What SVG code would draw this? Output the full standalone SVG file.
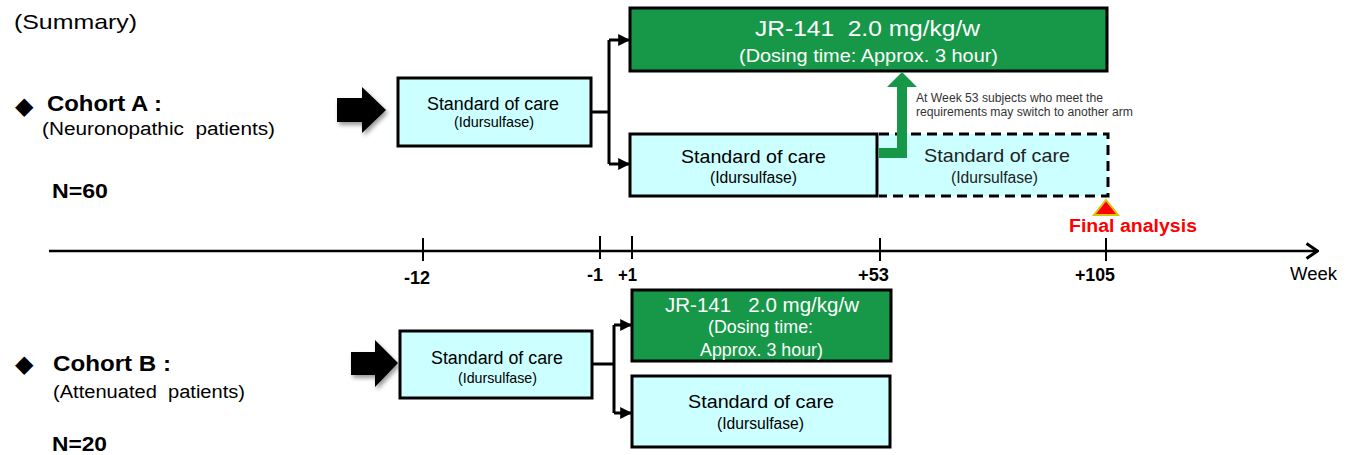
<svg xmlns="http://www.w3.org/2000/svg" width="1354" height="455" viewBox="0 0 1354 455">
<defs>
<style>
text{font-family:"Liberation Sans",Arial,sans-serif;}
.soc{fill:#CCFFFF;stroke:#000;stroke-width:3;}
.grn{fill:#169848;stroke:#000;stroke-width:3;}
.wt{fill:#fff;}
.bk{fill:#000;}
.conn{fill:none;stroke:#000;stroke-width:3;}
.tick{stroke:#000;stroke-width:2;}
.lbl{font-weight:bold;font-size:18px;fill:#000;}
.fat{fill:#000;}
.dia{font-family:"DejaVu Sans",sans-serif;font-size:24px;fill:#000;}
</style>
<marker id="ah" viewBox="0 0 10 10" refX="9" refY="5" markerWidth="4" markerHeight="4" orient="auto" markerUnits="strokeWidth">
<path d="M0,0 L10,5 L0,10 z" fill="#000"/>
</marker>
<marker id="open" viewBox="0 0 14 18" refX="13" refY="9" markerWidth="14" markerHeight="18" orient="auto" markerUnits="userSpaceOnUse">
<path d="M1.5,1.5 L12.5,9 L1.5,16.5" fill="none" stroke="#000" stroke-width="3"/>
</marker>
<filter id="sh" x="-20%" y="-20%" width="150%" height="150%">
<feDropShadow dx="2" dy="3" stdDeviation="2" flood-color="#000" flood-opacity="0.4"/>
</filter>
</defs>

<text x="14" y="29" font-size="21" fill="#000" textLength="123" lengthAdjust="spacingAndGlyphs">(Summary)</text>

<g id="cohortA-label">
<text class="dia" x="15" y="114">◆</text>
<text x="47" y="111" font-size="22" font-weight="bold" fill="#000" textLength="115" lengthAdjust="spacingAndGlyphs">Cohort A :</text>
<text x="42" y="135" font-size="18" fill="#000" xml:space="preserve" textLength="233" lengthAdjust="spacingAndGlyphs">(Neuronopathic  patients)</text>
<text x="52" y="198" font-size="20" font-weight="bold" fill="#000" textLength="56" lengthAdjust="spacingAndGlyphs">N=60</text>
</g>

<g id="cohortB-label">
<text class="dia" x="15" y="372">◆</text>
<text x="53" y="371" font-size="22" font-weight="bold" fill="#000" textLength="118" lengthAdjust="spacingAndGlyphs">Cohort B :</text>
<text x="53" y="398" font-size="18" fill="#000" xml:space="preserve" textLength="192" lengthAdjust="spacingAndGlyphs">(Attenuated  patients)</text>
<text x="52" y="451" font-size="20" font-weight="bold" fill="#000" textLength="55" lengthAdjust="spacingAndGlyphs">N=20</text>
</g>

<g id="fatarrowA" filter="url(#sh)">
<path class="fat" d="M337,98 L362,98 L362,87 L386,110 L362,133 L362,122 L337,122 z"/>
</g>
<g id="fatarrowB" filter="url(#sh)">
<path class="fat" d="M351,352 L375,352 L375,340 L398,363 L375,387 L375,375 L351,375 z"/>
</g>

<g id="connectors">
<path class="conn" d="M591,112 H609 M609,40 V164"/>
<path class="conn" d="M609,40 H629" marker-end="url(#ah)"/>
<path class="conn" d="M609,164 H629" marker-end="url(#ah)"/>
<path class="conn" d="M592,364 H614 M614,325 V413"/>
<path class="conn" d="M614,325 H631" marker-end="url(#ah)"/>
<path class="conn" d="M614,413 H631" marker-end="url(#ah)"/>
</g>

<g id="A-soc-pre">
<rect class="soc" x="398" y="78" width="193" height="68"/>
<text class="bk" x="427" y="110" font-size="18" textLength="132" lengthAdjust="spacingAndGlyphs">Standard of care</text>
<text class="bk" x="454" y="127" font-size="15" textLength="80" lengthAdjust="spacingAndGlyphs">(Idursulfase)</text>
</g>

<g id="A-jr141">
<rect class="grn" x="630" y="8" width="477" height="63"/>
<text class="wt" x="755" y="36" font-size="22" xml:space="preserve" textLength="225" lengthAdjust="spacingAndGlyphs">JR-141  2.0 mg/kg/w</text>
<text class="wt" x="739" y="62" font-size="19" textLength="259" lengthAdjust="spacingAndGlyphs">(Dosing time: Approx. 3 hour)</text>
</g>

<g id="A-soc-ext">
<rect x="879" y="134" width="229" height="62" fill="#CCFFFF"/>
<path d="M879,134 H1108 V196 H879" fill="none" stroke="#000" stroke-width="3" stroke-dasharray="10,6"/>
<text x="924" y="162" font-size="19" fill="#222" textLength="146" lengthAdjust="spacingAndGlyphs">Standard of care</text>
<text x="951" y="183" font-size="16" fill="#222" textLength="87" lengthAdjust="spacingAndGlyphs">(Idursulfase)</text>
</g>

<g id="A-soc">
<rect class="soc" x="630" y="134" width="247" height="62"/>
<text class="bk" x="681" y="163" font-size="19" textLength="145" lengthAdjust="spacingAndGlyphs">Standard of care</text>
<text class="bk" x="710" y="183" font-size="16" textLength="87" lengthAdjust="spacingAndGlyphs">(Idursulfase)</text>
</g>

<g id="switch-arrow">
<path d="M879,148 H897 V87 H887 L902,72 L917,87 H907 V158 H879 z" fill="#169848"/>
<text x="916" y="102" font-size="12" fill="#333" textLength="187" lengthAdjust="spacingAndGlyphs">At Week 53 subjects who meet the</text>
<text x="916" y="116" font-size="12" fill="#333" textLength="217" lengthAdjust="spacingAndGlyphs">requirements may switch to another arm</text>
</g>

<g id="final-analysis">
<path d="M1106,200 L1118,215 L1094,215 z" fill="#FF0000" stroke="#D4C800" stroke-width="2"/>
<text x="1069" y="232" font-size="18" font-weight="bold" fill="#FF0000" textLength="128" lengthAdjust="spacingAndGlyphs">Final analysis</text>
</g>

<g id="timeline">
<line x1="49" y1="251" x2="1318" y2="251" stroke="#000" stroke-width="2.5" marker-end="url(#open)"/>
<line class="tick" x1="423" y1="238" x2="423" y2="261"/>
<line class="tick" x1="600" y1="236" x2="600" y2="259"/>
<line class="tick" x1="632" y1="236" x2="632" y2="259"/>
<line class="tick" x1="880" y1="238" x2="880" y2="261"/>
<line class="tick" x1="1106" y1="238" x2="1106" y2="261"/>
<text class="lbl" x="404" y="284" textLength="26" lengthAdjust="spacingAndGlyphs">-12</text>
<text class="lbl" x="587" y="281" textLength="16" lengthAdjust="spacingAndGlyphs">-1</text>
<text class="lbl" x="618" y="281" textLength="19" lengthAdjust="spacingAndGlyphs">+1</text>
<text class="lbl" x="858" y="281" textLength="31" lengthAdjust="spacingAndGlyphs">+53</text>
<text class="lbl" x="1075" y="281" textLength="40" lengthAdjust="spacingAndGlyphs">+105</text>
<text x="1290" y="280" font-size="18" fill="#000" textLength="47" lengthAdjust="spacingAndGlyphs">Week</text>
</g>

<g id="B-soc-pre">
<rect class="soc" x="400" y="331" width="192" height="67"/>
<text class="bk" x="431" y="364" font-size="18" textLength="132" lengthAdjust="spacingAndGlyphs">Standard of care</text>
<text class="bk" x="458" y="383" font-size="15" textLength="79" lengthAdjust="spacingAndGlyphs">(Idursulfase)</text>
</g>

<g id="B-jr141">
<rect class="grn" x="632" y="290" width="259" height="71"/>
<text class="wt" x="665" y="312" font-size="20" xml:space="preserve" textLength="194" lengthAdjust="spacingAndGlyphs">JR-141   2.0 mg/kg/w</text>
<text class="wt" x="708" y="333" font-size="18" textLength="105" lengthAdjust="spacingAndGlyphs">(Dosing time:</text>
<text class="wt" x="700" y="356" font-size="18" textLength="123" lengthAdjust="spacingAndGlyphs">Approx. 3 hour)</text>
</g>

<g id="B-soc">
<rect class="soc" x="632" y="376" width="258" height="71"/>
<text class="bk" x="688" y="408" font-size="19" textLength="146" lengthAdjust="spacingAndGlyphs">Standard of care</text>
<text class="bk" x="717" y="429" font-size="16" textLength="87" lengthAdjust="spacingAndGlyphs">(Idursulfase)</text>
</g>
</svg>
